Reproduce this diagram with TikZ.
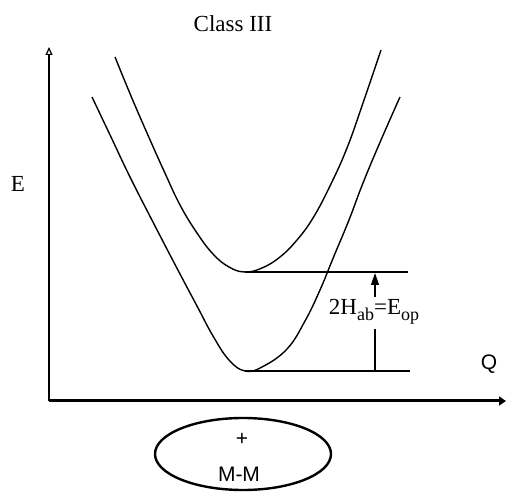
\documentclass[tikz,border=0pt]{standalone}
\usepackage{fontspec}
\setmainfont{Liberation Serif}
\newfontfamily\arialf{Liberation Sans}
\usetikzlibrary{arrows.meta,shapes.geometric}
\begin{document}
\begin{tikzpicture}[x=1pt,y=-1pt,
  curve/.style={line width=1.4pt, line join=round},
  level/.style={line width=1.3pt},
  serif/.style={font=\fontsize{23}{27}\selectfont, inner sep=0pt},
  sans/.style={font=\arialf\fontsize{21}{25}\selectfont, inner sep=0pt}]
\useasboundingbox (0,0) rectangle (507,492);
% axes
\coordinate (O) at (49,401);
\coordinate (Ytop) at (49,47);
\coordinate (Xend) at (506,401);
\draw[line width=1.6pt, -{Triangle[open, length=8pt, width=7pt, line width=1.2pt]}] (O) -- (Ytop);
\draw[line width=3pt, -{Triangle[length=7pt, width=9pt]}] (O) -- (Xend);
% curves
\draw[curve] plot[smooth, tension=0.7] coordinates {(115,57) (131,96) (147,133) (164,171) (180,205) (197,233) (213,254) (229,267) (245,272) (262,268) (280,257) (297,240) (313,218) (330,186) (347,148) (363,103) (381,50)};
\draw[curve] plot[smooth, tension=0.7] coordinates {(92,97) (111,137) (130,177) (155,226) (180,274) (197,306) (213,336) (229,360) (245,371) (262,367) (287,349) (305,321) (320,290) (334,256) (349,220) (363,183) (381,140) (400,97)};
% levels
\coordinate (U1) at (245,272);
\coordinate (U2) at (408,272);
\coordinate (L1) at (245,371);
\coordinate (L2) at (410,371);
\draw[level] (U1) -- (U2);
\draw[level] (L1) -- (L2);
% gap arrow
\node[serif] (lab) at (374,312) {2H{\fontsize{18}{20}\selectfont\raisebox{-0.35em}{ab}}=E{\fontsize{18}{20}\selectfont\raisebox{-0.35em}{op}}};
\coordinate (Atop) at (375,273);
\coordinate (Abot) at (375,371);
\draw[line width=1.3pt, -{Triangle[length=12pt, width=8pt]}] (lab.north -| Atop) ++(0,-2) -- (Atop);
\draw[line width=1.3pt] (lab.south -| Abot) ++(0,4) -- (Abot);
% labels
\node[serif] (title) at (233,24) {Class III};
\node[serif] (E) at (18,184) {E};
\node[sans] (Q) at (489,364) {Q};
% molecule
\node[ellipse, draw, line width=2.4pt, minimum width=176pt, minimum height=72pt] (mol) at (243,454) {};
\node[sans] (plus) at (242,439) {+};
\node[sans] (MM) at (239,474) {M-M};
\end{tikzpicture}
\end{document}
